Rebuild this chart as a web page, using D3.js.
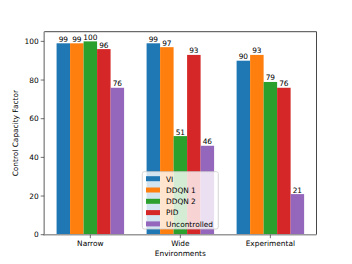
<!DOCTYPE html>
<html><head><meta charset="utf-8">
<script src="https://cdn.jsdelivr.net/npm/d3@7"></script>
<style>body{margin:0;background:#fff}svg{display:block}text{font-family:"DejaVu Sans",sans-serif}</style>
</head><body>
<svg id="c" width="352" height="264"></svg>
<script>
const categories = ["Narrow", "Wide", "Experimental"];
const seriesNames = ["VI", "DDQN 1", "DDQN 2", "PID", "Uncontrolled"];
const VI = [99, 99, 90];
const DDQN1 = [99, 97, 93];
const DDQN2 = [100, 51, 79];
const PID = [96, 93, 76];
const Uncontrolled = [76, 46, 21];
const yTicks = [0, 20, 40, 60, 80, 100];
const colors = ["#1f77b4", "#ff7f0e", "#2ca02c", "#d62728", "#9467bd"];
const series = [VI, DDQN1, DDQN2, PID, Uncontrolled];

const L = 44.2, R = 316.5, T = 31.7, B = 234.7;
const svg = d3.select("#c");
const x = d3.scaleLinear().domain([-0.5125, 2.5125]).range([L, R]);
const y = d3.scaleLinear().domain([0, 105]).range([B, T]);
const bw = 0.15;
const fs = 7.4;

series.forEach((vals, si) => {
  const off = (si - 2) * bw;
  const g = svg.append("g");
  g.selectAll("rect").data(vals).join("rect")
    .attr("x", (d, i) => x(i + off - bw / 2))
    .attr("width", x(bw) - x(0))
    .attr("y", d => y(d))
    .attr("height", d => y(0) - y(d))
    .attr("fill", colors[si]);
  g.selectAll("text").data(vals).join("text")
    .attr("x", (d, i) => x(i + off))
    .attr("y", d => y(d) - 1.5)
    .attr("text-anchor", "middle")
    .attr("font-size", fs)
    .attr("fill", "#000")
    .text(d => d);
});

// spines
svg.append("line").attr("x1", L).attr("x2", R).attr("y1", T).attr("y2", T).attr("stroke", "#333").attr("stroke-width", 0.9);
svg.append("line").attr("x1", R).attr("x2", R).attr("y1", T).attr("y2", B).attr("stroke", "#333").attr("stroke-width", 0.9);
svg.append("line").attr("x1", L).attr("x2", L).attr("y1", T).attr("y2", B + 0.5).attr("stroke", "#999").attr("stroke-width", 1.6);
svg.append("line").attr("x1", L - 0.8).attr("x2", R).attr("y1", B).attr("y2", B).attr("stroke", "#999").attr("stroke-width", 1.6);

// y axis
const ya = svg.append("g");
yTicks.forEach(t => {
  ya.append("line").attr("x1", L - 3.5).attr("x2", L).attr("y1", y(t)).attr("y2", y(t)).attr("stroke", "#333").attr("stroke-width", 0.7);
  ya.append("text").attr("x", L - 5.5).attr("y", y(t)).attr("dy", "0.35em").attr("text-anchor", "end").attr("font-size", fs).text(t);
});
// x axis
categories.forEach((c, i) => {
  svg.append("line").attr("x1", x(i)).attr("x2", x(i)).attr("y1", B).attr("y2", B + 3.5).attr("stroke", "#333").attr("stroke-width", 0.7);
  svg.append("text").attr("x", x(i)).attr("y", B + 11.5).attr("text-anchor", "middle").attr("font-size", fs).text(c);
});
svg.append("text").attr("x", (L + R) / 2).attr("y", 256).attr("text-anchor", "middle").attr("font-size", fs).text("Environments");
svg.append("text").attr("transform", `translate(18,${(T + B) / 2}) rotate(-90)`).attr("text-anchor", "middle").attr("font-size", fs).text("Control Capacity Factor");

// legend
const lg = svg.append("g");
lg.append("rect").attr("x", 142.3).attr("y", 171.7).attr("width", 76).attr("height", 57.3).attr("rx", 2)
  .attr("fill", "#fff").attr("fill-opacity", 0.8).attr("stroke", "#ccc").attr("stroke-width", 0.8);
seriesNames.forEach((n, i) => {
  const yy = 179 + i * 11.3;
  lg.append("rect").attr("x", 146).attr("y", yy - 2.8).attr("width", 14).attr("height", 5).attr("fill", colors[i]);
  lg.append("text").attr("x", 166).attr("y", yy).attr("dy", "0.35em").attr("font-size", fs).text(n);
});
</script>
</body></html>
